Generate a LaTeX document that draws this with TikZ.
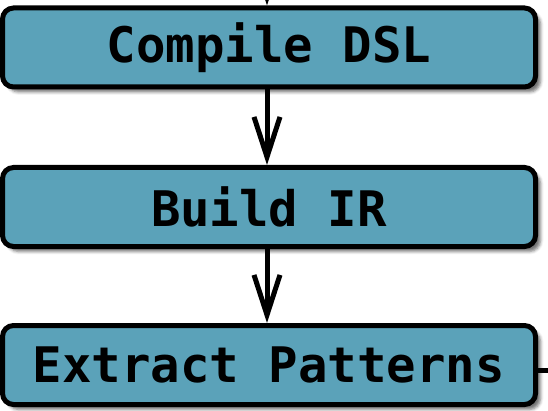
\documentclass[tikz,border=0pt]{standalone}
\usepackage{fontspec}
\newfontfamily\boxfont{DejaVu Sans Mono}
\usetikzlibrary{arrows.meta,shadows.blur}
\definecolor{boxblue}{HTML}{5BA2B9}
\tikzset{
  stepbox/.style={draw=black, line width=5pt, fill=boxblue, rounded corners=11pt,
    minimum width=533pt, minimum height=79pt, inner sep=0pt,
    font=\boxfont\bfseries\fontsize{49}{57}\selectfont,
    blur shadow={shadow xshift=5pt, shadow yshift=-5pt, shadow blur radius=3pt, shadow opacity=55}},
  flow/.style={line width=5pt, -{Straight Barb[length=40pt,width=26pt]}}
}
\begin{document}
\begin{tikzpicture}[x=1pt,y=1pt]
\useasboundingbox (0,0) rectangle (548,410);
\clip (0,0) rectangle (548,410);
\node[stepbox] (compile) at (269,362.5) {Compile DSL};
\node[stepbox] (build) at (269,203) {Build IR};
\node[stepbox] (extract) at (269,45) {Extract Patterns};
\coordinate (top) at (267,450);
\coordinate (rightend) at (560,40);
\draw[flow] (top) -- (top |- compile.north);
\draw[flow] ([xshift=-2pt]compile.south) -- ([xshift=-2pt]build.north);
\draw[flow] ([xshift=-2pt]build.south) -- ([xshift=-2pt]extract.north);
\draw[line width=5pt] (extract.east |- rightend) -- (rightend);
\end{tikzpicture}
\end{document}
